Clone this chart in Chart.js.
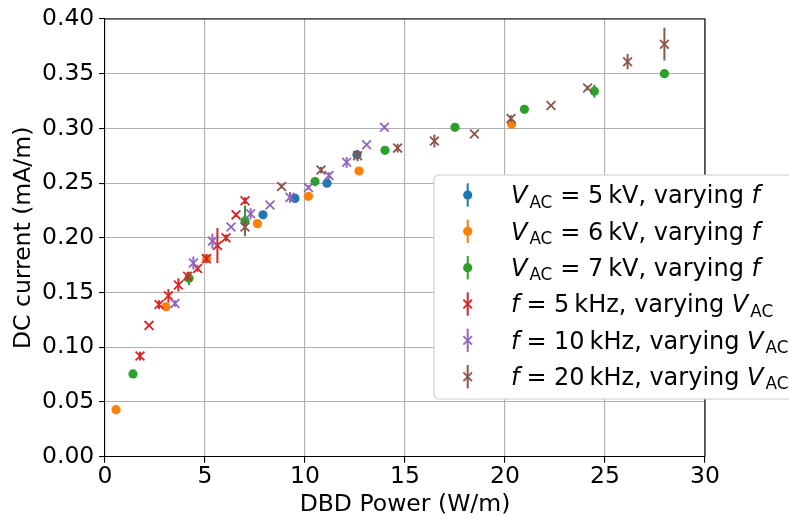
<!DOCTYPE html>
<html>
<head>
<meta charset="utf-8">
<script src="https://cdn.jsdelivr.net/npm/chart.js@4.4.0/dist/chart.umd.min.js"></script>
<style>
  html, body { margin: 0; padding: 0; background: #fff; overflow: hidden; }
  #wrap { position: relative; width: 789px; height: 519px; }
</style>
</head>
<body>
<div id="wrap"><canvas id="chart"></canvas></div>
<script>
/* ── DC current vs DBD power ── */

// ── Data ──

// fixed voltage, frequency swept
const v5Power   = [7.9, 9.5, 11.1, 12.6];
const v5Current = [0.221, 0.236, 0.250, 0.276];
const v5Err     = [0.002, 0.002, 0.002, 0.002];

const v6Power   = [0.55, 3.05, 5.08, 7.62, 10.17, 12.7, 20.33];
const v6Current = [0.043, 0.137, 0.181, 0.213, 0.238, 0.261, 0.304];
const v6Err     = [0.001, 0.002, 0.003, 0.002, 0.004, 0.002, 0.002];

const v7Power   = [1.4, 4.2, 7.0, 10.5, 14.0, 17.5, 20.97, 24.47, 27.97];
const v7Current = [0.0756, 0.163, 0.2155, 0.2514, 0.280, 0.301, 0.3175, 0.334, 0.350];
const v7Err     = [0.002, 0.006, 0.014, 0.002, 0.002, 0.002, 0.002, 0.006, 0.002];

// fixed frequency, voltage swept
const f5Power   = [1.75, 2.2, 2.7, 3.17, 3.67, 4.13, 4.63, 5.07, 5.62, 6.05, 6.55, 7.0];
const f5Current = [0.092, 0.120, 0.139, 0.147, 0.157, 0.165, 0.172, 0.181, 0.193, 0.200, 0.221, 0.234];
const f5Err     = [0.004, 0.001, 0.004, 0.006, 0.006, 0.004, 0.003, 0.004, 0.016, 0.003, 0.002, 0.003];

const f10Power   = [3.5, 4.42, 5.37, 6.3, 7.28, 8.25, 9.25, 10.17, 11.2, 12.08, 13.08, 13.97];
const f10Current = [0.140, 0.177, 0.197, 0.210, 0.222, 0.230, 0.237, 0.246, 0.257, 0.269, 0.285, 0.301];
const f10Err     = [0.003, 0.006, 0.007, 0.001, 0.005, 0.001, 0.005, 0.002, 0.003, 0.005, 0.001, 0.002];

const f20Power   = [7.0, 8.83, 10.8, 12.63, 14.63, 16.47, 18.47, 20.3, 22.3, 24.13, 26.13, 27.97];
const f20Current = [0.210, 0.247, 0.262, 0.275, 0.282, 0.2885, 0.295, 0.309, 0.321, 0.337, 0.361, 0.377];
const f20Err     = [0.006, 0.002, 0.003, 0.005, 0.004, 0.006, 0.001, 0.003, 0.001, 0.002, 0.007, 0.015];

const xTicks = [0, 5, 10, 15, 20, 25, 30];
const yTicks = [0.00, 0.05, 0.10, 0.15, 0.20, 0.25, 0.30, 0.35, 0.40];

// legend labels, split into runs so subscripts / italics can be drawn
const legendLabels = [
  [{ t: 'V', it: 1 }, { t: 'AC', sub: 1, pre: 2 }, { t: '=', pre: 8, post: 7.5 }, { t: '5' }, { t: 'kV', pre: 5 }, { t: ', varying ' }, { t: 'f', it: 1 }],
  [{ t: 'V', it: 1 }, { t: 'AC', sub: 1, pre: 2 }, { t: '=', pre: 8, post: 7.5 }, { t: '6' }, { t: 'kV', pre: 5 }, { t: ', varying ' }, { t: 'f', it: 1 }],
  [{ t: 'V', it: 1 }, { t: 'AC', sub: 1, pre: 2 }, { t: '=', pre: 8, post: 7.5 }, { t: '7' }, { t: 'kV', pre: 5 }, { t: ', varying ' }, { t: 'f', it: 1 }],
  [{ t: 'f', it: 1 }, { t: '=', pre: 7, post: 7.5 }, { t: '5' }, { t: 'kHz', pre: 5 }, { t: ', varying ' }, { t: 'V', it: 1 }, { t: 'AC', sub: 1, pre: 2 }],
  [{ t: 'f', it: 1 }, { t: '=', pre: 7, post: 7.5 }, { t: '10' }, { t: 'kHz', pre: 5 }, { t: ', varying ' }, { t: 'V', it: 1 }, { t: 'AC', sub: 1, pre: 2 }],
  [{ t: 'f', it: 1 }, { t: '=', pre: 7, post: 7.5 }, { t: '20' }, { t: 'kHz', pre: 5 }, { t: ', varying ' }, { t: 'V', it: 1 }, { t: 'AC', sub: 1, pre: 2 }]
];

// ── Style ──

const FONT = '"DejaVu Sans", sans-serif';
const FS = 23.5;
const LEGEND_FS = 24;
const C = {
  blue: '#1f77b4', orange: '#ff7f0e', green: '#2ca02c',
  red: '#d62728', purple: '#9467bd', brown: '#8c564b'
};

function pts(xs, ys) {
  return xs.map((x, i) => ({ x, y: ys[i] }));
}

function series(label, xs, ys, errs, color, marker, order) {
  const isDot = marker === 'circle';
  return {
    label,
    data: pts(xs, ys),
    errors: errs,
    color,
    order,
    pointStyle: marker,
    pointRadius: isDot ? 4.6 : 6.2,
    pointHoverRadius: isDot ? 4.6 : 6.2,
    pointBorderWidth: isDot ? 0 : 1.8,
    pointBackgroundColor: color,
    pointBorderColor: color,
    showLine: false
  };
}

// ── Plugins ──

// vertical error bars, drawn under each series' markers
const errorBars = {
  id: 'errorBars',
  beforeDatasetDraw(chart, args) {
    const ds = chart.data.datasets[args.index];
    if (!ds.errors) return;
    const ctx = chart.ctx;
    const ys = chart.scales.y;
    const area = chart.chartArea;
    ctx.save();
    ctx.beginPath();
    ctx.rect(area.left, area.top, area.right - area.left, area.bottom - area.top);
    ctx.clip();
    ctx.strokeStyle = ds.color;
    ctx.lineWidth = 2;
    args.meta.data.forEach((pt, i) => {
      const v = ds.data[i].y, e = ds.errors[i];
      ctx.beginPath();
      ctx.moveTo(pt.x, ys.getPixelForValue(v - e));
      ctx.lineTo(pt.x, ys.getPixelForValue(v + e));
      ctx.stroke();
    });
    ctx.restore();
  }
};

// top and right spines
const frame = {
  id: 'frame',
  afterDatasetsDraw(chart) {
    const { ctx, chartArea: a } = chart;
    ctx.save();
    ctx.strokeStyle = '#000';
    ctx.lineWidth = 1.1;
    ctx.beginPath();
    ctx.moveTo(a.left, a.top);
    ctx.lineTo(a.right, a.top);
    ctx.lineTo(a.right, a.bottom);
    ctx.stroke();
    ctx.restore();
  }
};

function richText(ctx, x, y, parts) {
  parts.forEach(p => {
    x += p.pre || 0;
    const size = p.sub ? LEGEND_FS * 0.7 : LEGEND_FS;
    ctx.font = `${p.it ? 'italic ' : ''}${size}px ${FONT}`;
    ctx.fillText(p.t, x, y + (p.sub ? 4.4 : 0));
    x += ctx.measureText(p.t).width + (p.post || 0);
  });
}

const legendBox = {
  id: 'legendBox',
  afterDraw(chart) {
    const ctx = chart.ctx;
    const left = 434, top = 175, bottom = 399, right = 840;
    ctx.save();
    ctx.beginPath();
    ctx.roundRect(left, top, right - left, bottom - top, 5);
    ctx.fillStyle = '#fff';
    ctx.fill();
    ctx.strokeStyle = '#cccccc';
    ctx.lineWidth = 1.1;
    ctx.stroke();

    chart.data.datasets.forEach((ds, i) => {
      const cy = 195 + i * 36.35;
      const cx = 467.7;
      ctx.strokeStyle = ds.color;
      ctx.fillStyle = ds.color;
      ctx.lineWidth = 2;
      ctx.beginPath();
      ctx.moveTo(cx, cy - 11.7);
      ctx.lineTo(cx, cy + 11.7);
      ctx.stroke();
      if (ds.pointStyle === 'circle') {
        ctx.beginPath();
        ctx.arc(cx, cy, 4.6, 0, Math.PI * 2);
        ctx.fill();
      } else {
        const h = 4.3;
        ctx.lineWidth = 1.8;
        ctx.beginPath();
        ctx.moveTo(cx - h, cy - h); ctx.lineTo(cx + h, cy + h);
        ctx.moveTo(cx - h, cy + h); ctx.lineTo(cx + h, cy - h);
        ctx.stroke();
      }
      ctx.fillStyle = '#000';
      ctx.textBaseline = 'alphabetic';
      ctx.textAlign = 'left';
      richText(ctx, 511, cy + 8.3, legendLabels[i]);
    });
    ctx.restore();
  }
};

// ── Chart ──

const axisFont = { family: FONT, size: FS };
const gridOpts = { color: '#b0b0b0', lineWidth: 1.1, tickColor: '#000', tickLength: 6, tickWidth: 1.1 };

new Chart(document.getElementById('chart'), {
  type: 'scatter',
  data: {
    datasets: [
      series('V_AC = 5 kV, varying f', v5Power, v5Current, v5Err, C.blue, 'circle', 5),
      series('V_AC = 6 kV, varying f', v6Power, v6Current, v6Err, C.orange, 'circle', 4),
      series('V_AC = 7 kV, varying f', v7Power, v7Current, v7Err, C.green, 'circle', 3),
      series('f = 5 kHz, varying V_AC', f5Power, f5Current, f5Err, C.red, 'crossRot', 2),
      series('f = 10 kHz, varying V_AC', f10Power, f10Current, f10Err, C.purple, 'crossRot', 1),
      series('f = 20 kHz, varying V_AC', f20Power, f20Current, f20Err, C.brown, 'crossRot', 0)
    ]
  },
  options: {
    responsive: true,
    maintainAspectRatio: false,
    animation: false,
    events: [],
    layout: { padding: { left: 0, top: 19, right: 84, bottom: 0 } },
    plugins: { legend: { display: false }, tooltip: { enabled: false } },
    scales: {
      x: {
        type: 'linear',
        min: xTicks[0],
        max: xTicks[xTicks.length - 1],
        afterBuildTicks: s => { s.ticks = xTicks.map(v => ({ value: v })); },
        afterFit: s => { s.height = 62.3; },
        ticks: { font: axisFont, color: '#000', padding: 0, maxRotation: 0, callback: v => String(v) },
        grid: gridOpts,
        border: { color: '#000', width: 1.1 },
        title: { display: true, text: 'DBD Power (W/m)', font: axisFont, color: '#000', padding: { top: 0, bottom: 0 } }
      },
      y: {
        type: 'linear',
        min: yTicks[0],
        max: yTicks[yTicks.length - 1],
        afterBuildTicks: s => { s.ticks = yTicks.map(v => ({ value: v })); },
        afterFit: s => { s.width = 105; },
        ticks: { font: axisFont, color: '#000', padding: 4.7, callback: v => v.toFixed(2) },
        grid: gridOpts,
        border: { color: '#000', width: 1.1 },
        title: { display: true, text: 'DC current (mA/m)', font: axisFont, color: '#000', padding: { top: 10, bottom: 0 } }
      }
    }
  },
  plugins: [errorBars, frame, legendBox]
});
</script>
</body>
</html>
